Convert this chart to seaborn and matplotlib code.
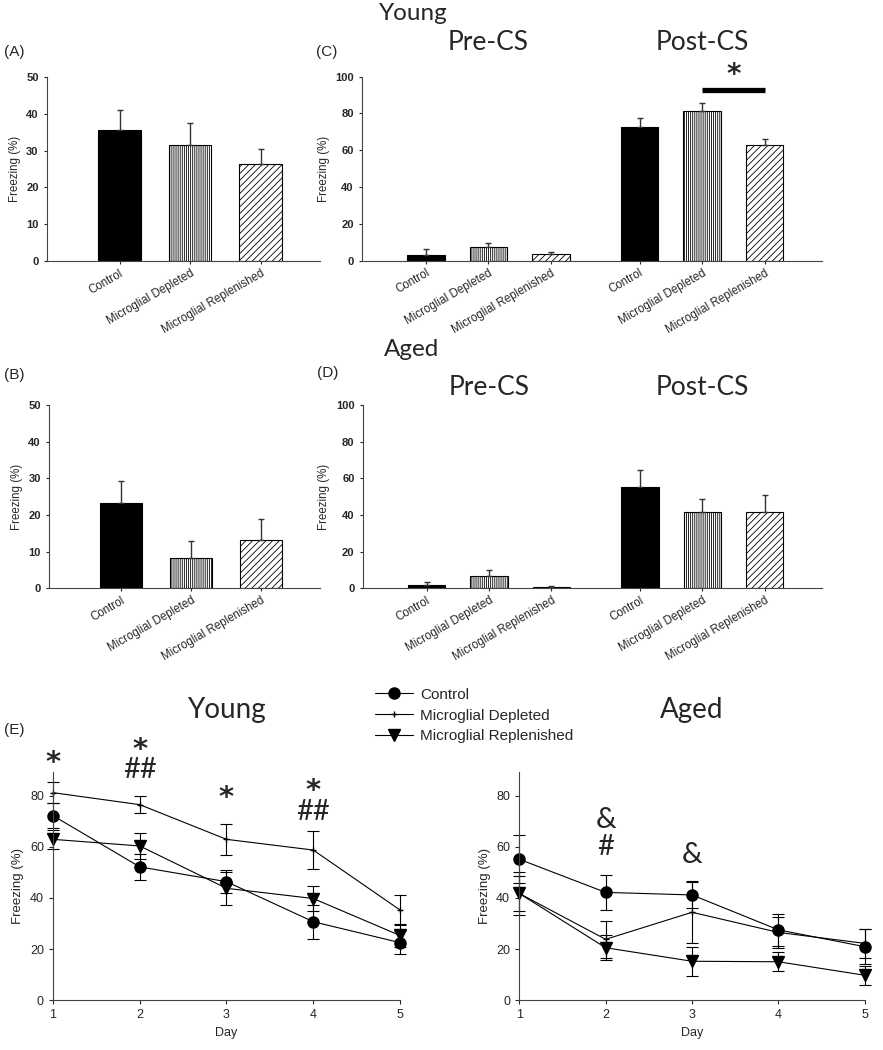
import seaborn as sns
import numpy as np
import pandas as pd
import matplotlib.pyplot as plt
from matplotlib import transforms

groups = ['Control', 'Microglial Depleted', 'Microglial Replenished']

# contextual fear (A young, B aged)
young_ctx = [35.7, 31.6, 26.3]
young_ctx_sem = [5.2, 6.0, 4.1]
aged_ctx = [23.3, 8.4, 13.3]
aged_ctx_sem = [5.9, 4.5, 5.6]

# cued fear, pre-CS then post-CS (C young, D aged)
young_cue = [3.1, 7.3, 3.5, 72.5, 81.2, 62.9]
young_cue_sem = [3.1, 2.5, 1.4, 4.9, 4.7, 3.2]
aged_cue = [1.9, 6.7, 0.7, 55.1, 41.5, 41.8]
aged_cue_sem = [1.7, 3.3, 0.7, 9.4, 7.0, 8.9]

# extinction across days (E)
days = [1, 2, 3, 4, 5]
young_ctrl = [72.3, 52.2, 46.4, 30.7, 22.5]
young_ctrl_sem = [5.0, 5.0, 4.6, 6.7, 4.6]
young_depl = [81.3, 76.6, 63.0, 58.8, 35.3]
young_depl_sem = [4.2, 3.4, 6.2, 7.5, 5.9]
young_repl = [63.0, 60.4, 43.8, 39.8, 25.3]
young_repl_sem = [3.8, 5.2, 6.4, 5.0, 4.5]
aged_ctrl = [55.2, 42.2, 41.2, 27.5, 20.9]
aged_ctrl_sem = [9.5, 6.8, 5.2, 6.3, 6.9]
aged_depl = [41.8, 23.8, 34.4, 26.5, 22.2]
aged_depl_sem = [8.5, 7.3, 12.2, 6.2, 5.7]
aged_repl = [41.8, 20.5, 15.2, 15.0, 9.7]
aged_repl_sem = [7.0, 5.0, 5.6, 3.8, 3.7]

sns.set_style('ticks')
plt.rcParams['font.family'] = ['Liberation Sans', 'DejaVu Sans']
plt.rcParams['hatch.linewidth'] = 0.6
title_font = ['Lato', 'DejaVu Sans']

fig = plt.figure(figsize=(8.83, 10.5), dpi=100)

fills = ['black', 'white', 'white']
hatches = [None, '||||||||', '/////']


def bar_panel(ax, pos, means, sems, ymax, step):
    df = pd.DataFrame({'pos': pos, 'mean': means})
    sns.barplot(data=df, x='pos', y='mean', native_scale=True, width=0.6,
                color='white', edgecolor='black', linewidth=0.8,
                errorbar=None, ax=ax)
    for i, p in enumerate(ax.patches):
        p.set_facecolor(fills[i % 3])
        if hatches[i % 3]:
            p.set_hatch(hatches[i % 3])
    ax.errorbar(pos, means, yerr=[np.zeros(len(sems)), sems], fmt='none',
                ecolor='#333333', elinewidth=1, capsize=2.5, capthick=1)
    ax.set_ylim(0, ymax)
    ax.set_yticks(np.arange(0, ymax + 1, step))
    ax.set_xticks(pos)
    ax.set_xticklabels(groups * (len(pos) // 3), rotation=30, ha='right',
                       rotation_mode='anchor', fontsize=8.3)
    ax.tick_params(axis='y', labelsize=8, length=2.5, width=0.8)
    ax.tick_params(axis='x', length=2.5, width=0.8, pad=2)
    for lab in ax.get_yticklabels():
        lab.set_fontweight('bold')
    ax.set_xlabel('')
    ax.set_ylabel('Freezing (%)', fontsize=8.3)
    sns.despine(ax=ax)
    for s in ['left', 'bottom']:
        ax.spines[s].set_linewidth(0.8)
        ax.spines[s].set_color('#444444')


pos3 = [0, 1, 2]
pos6 = [0, 1, 2, 3.42, 4.42, 5.42]

axA = fig.add_axes([0.0532, 0.7514, 0.309, 0.1753])
bar_panel(axA, pos3, young_ctx, young_ctx_sem, 50, 10)
axA.set_xlim(-1.03, 2.84)

axC = fig.add_axes([0.41, 0.7517, 0.521, 0.1753])
bar_panel(axC, pos6, young_cue, young_cue_sem, 100, 20)
axC.set_xlim(-1.02, 6.34)

axB = fig.add_axes([0.0555, 0.4397, 0.3069, 0.1746])
bar_panel(axB, pos3, aged_ctx, aged_ctx_sem, 50, 10)
axB.set_xlim(-1.03, 2.84)

axD = fig.add_axes([0.411, 0.4397, 0.52, 0.1746])
bar_panel(axD, pos6, aged_cue, aged_cue_sem, 100, 20)
axD.set_xlim(-1.02, 6.34)

# Pre-CS / Post-CS headers
for ax, yy in [(axC, 1.183), (axD, 1.098)]:
    tr = transforms.blended_transform_factory(ax.transData, ax.transAxes)
    ax.text(np.mean(pos6[:3]), yy, 'Pre-CS', transform=tr, ha='center',
            va='center', fontsize=19, family=title_font)
    ax.text(np.mean(pos6[3:]), yy, 'Post-CS', transform=tr, ha='center',
            va='center', fontsize=19, family=title_font)

# significance bar in C
axC.plot([pos6[4], pos6[5]], [92.8, 92.8], color='black', lw=3.8,
         solid_capstyle='butt')
axC.text(np.mean(pos6[4:]), 101, '*', ha='center', va='center', fontsize=20,
         family='DejaVu Sans', fontweight='bold', clip_on=False)

fig.text(413 / 883, 1 - 14 / 1050, 'Young', ha='center', va='center',
         fontsize=17.5, family=title_font)
fig.text(412 / 883, 1 - 349 / 1050, 'Aged', ha='center', va='center',
         fontsize=17.5, family=title_font)
for lab, x, y in [('(A)', 14, 52), ('(C)', 327, 52), ('(B)', 14, 375),
                  ('(D)', 328, 373), ('(E)', 14, 730)]:
    fig.text(x / 883, 1 - y / 1050, lab, ha='center', va='center', fontsize=11)


def line_panel(ax, series, title):
    markers = ['o', '+', 'v']
    msizes = [8, 5, 8]
    for (name, vals, sems), m, ms in zip(series, markers, msizes):
        df = pd.DataFrame({'Day': days, 'Freezing': vals})
        sns.lineplot(data=df, x='Day', y='Freezing', color='black', lw=0.8,
                     marker=m, markersize=ms, markeredgewidth=1,
                     markeredgecolor='black', markerfacecolor='black',
                     label=name, ax=ax, errorbar=None, clip_on=False)
        eb = ax.errorbar(days, vals, yerr=sems, fmt='none', ecolor='black',
                         elinewidth=0.8, capsize=4, capthick=0.8)
        for art in eb.lines[1] + eb.lines[2]:
            art.set_clip_on(False)
    if ax.get_legend():
        ax.get_legend().remove()
    ax.set_xlim(1, 5)
    ax.set_ylim(0, 89.5)
    ax.set_xticks(days)
    ax.set_yticks([0, 20, 40, 60, 80])
    ax.tick_params(labelsize=9, length=3, width=0.8)
    ax.set_xlabel('Day', fontsize=9)
    ax.set_ylabel('Freezing (%)', fontsize=9.5)
    sns.despine(ax=ax)
    for s in ['left', 'bottom']:
        ax.spines[s].set_linewidth(0.8)
        ax.spines[s].set_color('#444444')
    ax.set_title(title, fontsize=20, family=title_font, pad=39)


axE1 = fig.add_axes([0.06, 0.0476, 0.393, 0.2174])
line_panel(axE1, [(groups[0], young_ctrl, young_ctrl_sem),
                  (groups[1], young_depl, young_depl_sem),
                  (groups[2], young_repl, young_repl_sem)], 'Young')
axE2 = fig.add_axes([0.588, 0.0476, 0.3915, 0.2174])
line_panel(axE2, [(groups[0], aged_ctrl, aged_ctrl_sem),
                  (groups[1], aged_depl, aged_depl_sem),
                  (groups[2], aged_repl, aged_repl_sem)], 'Aged')

for ax, notes in [(axE1, [(1, 95.4, '*'), (2, 100.6, '*'), (2, 90.2, '##'),
                          (3, 81.7, '*'), (4, 84.3, '*'), (4, 73.8, '##')]),
                  (axE2, [(2, 70.6, '&'), (2, 60.1, '#'), (3, 56.9, '&')])]:
    for d, y, s in notes:
        if s == '*':
            ax.text(d, y - 2.5, s, ha='center', va='center', clip_on=False,
                    fontsize=21, family='DejaVu Sans', fontweight='bold')
        else:
            ax.text(d, y, s, ha='center', va='center', clip_on=False,
                    fontsize=21, family=title_font)

handles, labels = axE1.get_legend_handles_labels()
fig.legend(handles[:3], labels[:3], loc='upper left',
           bbox_to_anchor=(367 / 883, 1 - 680 / 1050), frameon=False,
           borderpad=0, handlelength=2.5, handletextpad=0.5,
           labelspacing=0.45,
           prop={'family': ['Liberation Sans Narrow', 'Liberation Sans'],
                 'size': 11})

fig.savefig('out.png', dpi=100)
